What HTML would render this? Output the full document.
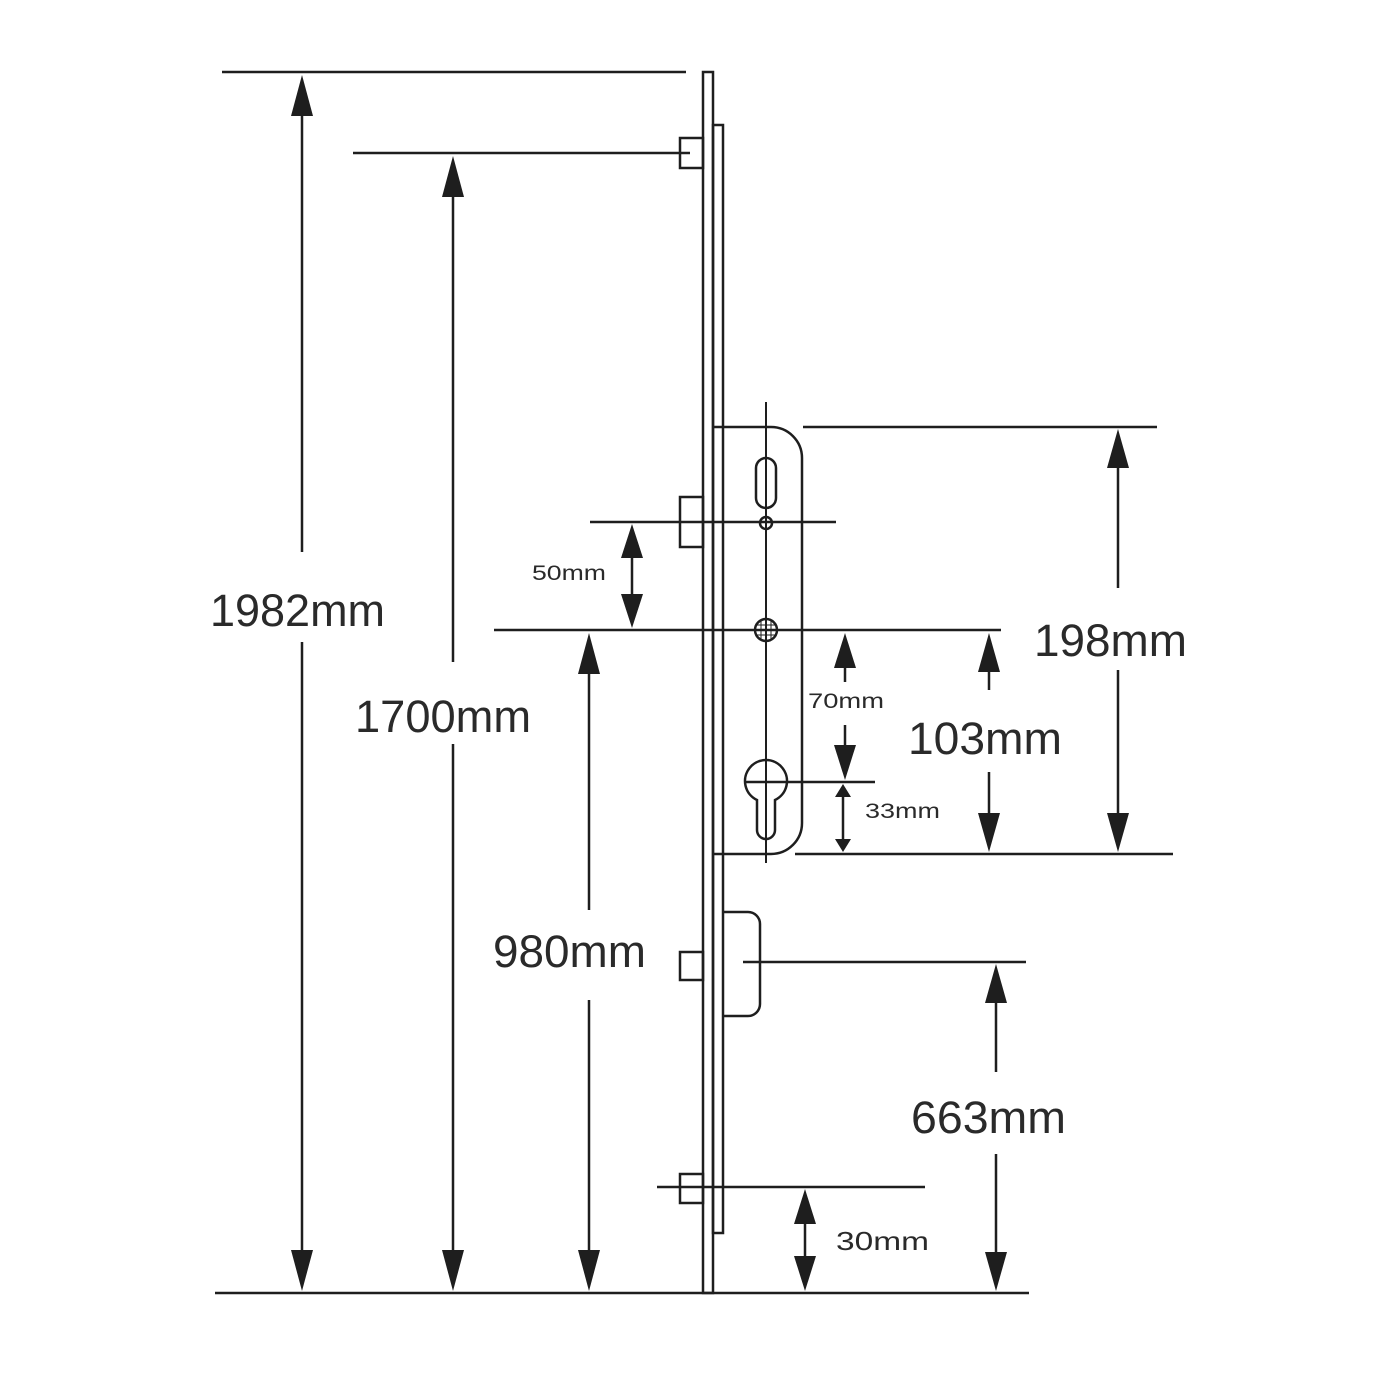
<!DOCTYPE html>
<html><head><meta charset="utf-8"><style>
html,body{margin:0;padding:0;background:#fff;}
svg{display:block;}
text{font-family:"Liberation Sans",sans-serif;fill:#2a2a2a;}
</style></head><body>
<svg width="1378" height="1378" viewBox="0 0 1378 1378" xmlns="http://www.w3.org/2000/svg">
<g stroke="#1e1e1e" stroke-width="2.5" fill="none">
<line x1="222" y1="72" x2="686" y2="72"/>
<line x1="353" y1="153" x2="690" y2="153"/>
<line x1="590" y1="522" x2="836" y2="522"/>
<line x1="494" y1="630" x2="1001" y2="630"/>
<line x1="803" y1="427" x2="1157" y2="427"/>
<line x1="795" y1="854" x2="1173" y2="854"/>
<line x1="745" y1="782" x2="875" y2="782"/>
<line x1="743" y1="962" x2="1026" y2="962"/>
<line x1="657" y1="1187" x2="925" y2="1187"/>
<line x1="215" y1="1293" x2="1029" y2="1293"/>
<line x1="302" y1="100" x2="302" y2="1270"/>
<line x1="453" y1="180" x2="453" y2="1270"/>
<line x1="589" y1="660" x2="589" y2="1270"/>
<line x1="632" y1="540" x2="632" y2="612"/>
<line x1="845" y1="660" x2="845" y2="682"/>
<line x1="845" y1="725" x2="845" y2="750"/>
<line x1="843" y1="790" x2="843" y2="846"/>
<line x1="989" y1="660" x2="989" y2="826"/>
<line x1="1118" y1="455" x2="1118" y2="826"/>
<line x1="996" y1="990" x2="996" y2="1270"/>
<line x1="805" y1="1205" x2="805" y2="1275"/>
<rect x="703" y="72" width="10" height="1221"/>
<rect x="713" y="125" width="10" height="1108"/>
<rect x="680" y="138" width="23" height="30"/>
<rect x="680" y="497" width="23" height="50"/>
<rect x="680" y="952" width="23" height="28"/>
<rect x="680" y="1174" width="23" height="29"/>
<path d="M713 427 H771 A31 31 0 0 1 802 458 V823 A31 31 0 0 1 771 854 H713"/>
<line x1="766" y1="402" x2="766" y2="863" stroke-width="2"/>
<rect x="756" y="458" width="20" height="50" rx="10"/>
<circle cx="766" cy="523" r="6"/>
<circle cx="766" cy="630" r="11"/>
<line x1="756" y1="625" x2="776" y2="625" stroke-width="1"/>
<line x1="756" y1="635" x2="776" y2="635" stroke-width="1"/>
<line x1="761" y1="620" x2="761" y2="640" stroke-width="1"/>
<line x1="771" y1="620" x2="771" y2="640" stroke-width="1"/>
<path d="M757 800 A21 21 0 1 1 775 800 V830 A9 9 0 0 1 757 830 Z"/>
<path d="M723 912 H748 A12 12 0 0 1 760 924 V1004 A12 12 0 0 1 748 1016 H723"/>
</g>
<g fill="#1e1e1e">
<polygon points="302,75 291,116 313,116"/>
<polygon points="302,1291 291,1250 313,1250"/>
<polygon points="453,156 442,197 464,197"/>
<polygon points="453,1291 442,1250 464,1250"/>
<polygon points="589,633 578,674 600,674"/>
<polygon points="589,1291 578,1250 600,1250"/>
<polygon points="632,524 621,558 643,558"/>
<polygon points="632,628 621,594 643,594"/>
<polygon points="845,633 834,668 856,668"/>
<polygon points="845,780 834,745 856,745"/>
<polygon points="843,784 835,797 851,797"/>
<polygon points="843,852 835,839 851,839"/>
<polygon points="989,633 978,672 1000,672"/>
<polygon points="989,852 978,813 1000,813"/>
<polygon points="1118,429 1107,468 1129,468"/>
<polygon points="1118,852 1107,813 1129,813"/>
<polygon points="996,964 985,1003 1007,1003"/>
<polygon points="996,1291 985,1252 1007,1252"/>
<polygon points="805,1189 794,1224 816,1224"/>
<polygon points="805,1291 794,1256 816,1256"/>
</g>
<g fill="#fff">
<rect x="205" y="552" width="185" height="90"/>
<rect x="350" y="662" width="185" height="82"/>
<rect x="490" y="910" width="160" height="90"/>
<rect x="905" y="690" width="160" height="82"/>
<rect x="1030" y="588" width="160" height="82"/>
<rect x="908" y="1072" width="160" height="82"/>
</g>
<g font-size="45">
<text x="210" y="626" textLength="175" lengthAdjust="spacingAndGlyphs">1982mm</text>
<text x="355" y="732" textLength="176" lengthAdjust="spacingAndGlyphs">1700mm</text>
<text x="493" y="967" textLength="153" lengthAdjust="spacingAndGlyphs">980mm</text>
<text x="908" y="754" textLength="154" lengthAdjust="spacingAndGlyphs">103mm</text>
<text x="1034" y="656" textLength="153" lengthAdjust="spacingAndGlyphs">198mm</text>
<text x="911" y="1133" textLength="155" lengthAdjust="spacingAndGlyphs">663mm</text>
</g>
<g font-size="21">
<text x="532" y="580" textLength="74" lengthAdjust="spacingAndGlyphs">50mm</text>
<text x="808" y="708" textLength="76" lengthAdjust="spacingAndGlyphs">70mm</text>
<text x="865" y="818" textLength="75" lengthAdjust="spacingAndGlyphs">33mm</text>
</g>
<text x="836" y="1250" font-size="26" textLength="93" lengthAdjust="spacingAndGlyphs">30mm</text>
</svg>
</body></html>
